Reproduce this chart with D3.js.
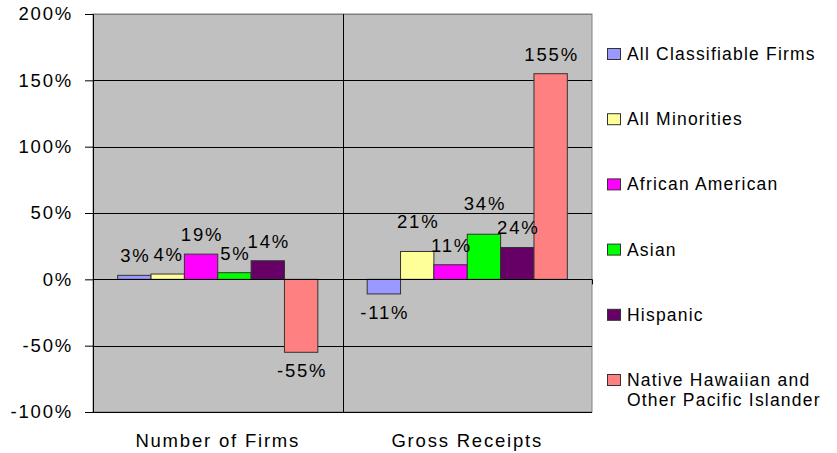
<!DOCTYPE html>
<html>
<head>
<meta charset="utf-8">
<script src="https://d3js.org/d3.v7.min.js"></script>
<style>
  body { margin: 0; background: #fff; }
  text { font-family: "Liberation Sans", Arial, sans-serif; fill: #000; }
</style>
</head>
<body>
<div id="canvas"></div>
<script>
// categories and series
var categories = ['Number of Firms', 'Gross Receipts'];
var series = ['All Classifiable Firms', 'All Minorities', 'African American', 'Asian', 'Hispanic', 'Native Hawaiian and Other Pacific Islander'];
var firmsValues = [3, 4, 19, 5, 14, -55];
var receiptsValues = [-11, 21, 11, 34, 24, 155];
var colors = ['#9999FF', '#FFFF99', '#FF00FF', '#00FF00', '#660066', '#FF8080'];
var yTicks = [-100, -50, 0, 50, 100, 150, 200];

var W = 837, H = 453;
var m = {t:14, r:245, b:41, l:93},
    w = W - m.l - m.r,
    h = H - m.t - m.b;

var svg = d3.select('#canvas')
    .append('svg')
    .attr('width', W)
    .attr('height', H);

var plot = svg.append('g')
    .attr('transform', 'translate(' + m.l + ',' + m.t + ')');

var y = d3.scaleLinear().domain([-100, 200]).range([h, 0]);
var x0 = d3.scaleBand().domain(categories).range([0, w]);
var x1 = d3.scaleBand().domain(d3.range(series.length))
    .range([0, x0.bandwidth()]).paddingOuter(0.74).paddingInner(0);

var data = categories.map(function(c, i){
    var vals = i == 0 ? firmsValues : receiptsValues;
    return {cat: c, vals: vals.map(function(v, j){ return {s: j, v: v}; })};
});

// background
plot.append('rect')
    .attr('width', w).attr('height', h)
    .attr('fill', '#C0C0C0')
    .attr('stroke', '#808080').attr('stroke-width', 1);

// gridlines
plot.selectAll('.grid')
    .data(yTicks)
    .enter()
    .append('line')
    .attr('x1', 0).attr('x2', w)
    .attr('y1', function(d){ return Math.round(y(d)) + 0.5; })
    .attr('y2', function(d){ return Math.round(y(d)) + 0.5; })
    .attr('stroke', function(d){ return d == 200 ? '#808080' : '#000'; })
    .attr('stroke-width', 1);

// category dividers
plot.append('line')
    .attr('x1', Math.round(x0.bandwidth()) + 0.5).attr('x2', Math.round(x0.bandwidth()) + 0.5)
    .attr('y1', 0).attr('y2', h)
    .attr('stroke', '#000');

// bars
var groups = plot.selectAll('.group')
    .data(data)
    .enter()
    .append('g')
    .attr('transform', function(d){ return 'translate(' + x0(d.cat) + ',0)'; });

groups.selectAll('rect')
    .data(function(d){ return d.vals; })
    .enter()
    .append('rect')
    .attr('x', function(d){ return x1(d.s); })
    .attr('width', x1.bandwidth())
    .attr('y', function(d){ return y(Math.max(0, d.v)); })
    .attr('height', function(d){ return Math.abs(y(d.v) - y(0)); })
    .attr('fill', function(d){ return colors[d.s]; })
    .attr('stroke', '#333')
    .attr('stroke-width', 1);

// value labels, nudged up when they collide with the next one (like excel does)
groups.each(function(g){
    var sel = d3.select(this);
    var lbls = sel.selectAll('.lbl')
        .data(g.vals)
        .enter()
        .append('text')
        .attr('class', 'lbl')
        .attr('x', function(d){ return x1(d.s) + x1.bandwidth()/2 + 1; })
        .attr('y', function(d){ return d.v >= 0 ? y(d.v) - 13 : y(d.v) + 25; })
        .attr('text-anchor', 'middle')
        .style('font-size', '18.5px')
        .style('letter-spacing', '1.8px')
        .text(function(d){ return d.v + '%'; });
    var nodes = lbls.nodes();
    for (var i = nodes.length - 2; i >= 0; i--) {
        var a = nodes[i].getBBox(), b = nodes[i+1].getBBox();
        var overlapX = Math.min(a.x + a.width, b.x + b.width) - Math.max(a.x, b.x);
        var overlapY = Math.min(a.y + a.height, b.y + b.height) - Math.max(a.y, b.y);
        if (overlapX > 6 && overlapY > 0 && g.vals[i].v > 0) {
            d3.select(nodes[i]).attr('y', +d3.select(nodes[i+1]).attr('y') - 24);
        }
    }
});

// zero line
plot.append('line')
    .attr('x1', 0).attr('x2', w)
    .attr('y1', Math.round(y(0)) + 0.5).attr('y2', Math.round(y(0)) + 0.5)
    .attr('stroke', '#000');
plot.selectAll('.ctick')
    .data([0, x0.bandwidth(), w])
    .enter()
    .append('line')
    .attr('x1', function(d){ return Math.round(d) + 0.5; })
    .attr('x2', function(d){ return Math.round(d) + 0.5; })
    .attr('y1', y(0)).attr('y2', y(0) + 5)
    .attr('stroke', '#000');

// y axis
var yAxis = d3.axisLeft(y)
    .tickValues(yTicks)
    .tickSize(8)
    .tickPadding(12)
    .tickFormat(function(d){ return d + '%'; });
var ya = plot.append('g').call(yAxis);
ya.select('.domain').attr('stroke', '#000');
ya.selectAll('text')
    .style('font-size', '18.5px')
    .style('letter-spacing', '1.8px')
    .attr('font-family', null);

// x labels
plot.selectAll('.xlab')
    .data(categories)
    .enter()
    .append('text')
    .attr('x', function(d){ return x0(d) + x0.bandwidth()/2; })
    .attr('y', h + 35)
    .attr('text-anchor', 'middle')
    .style('font-size', '18.5px')
    .style('letter-spacing', '1.8px')
    .text(function(d){ return d; });

// legend
var legend = svg.append('g')
    .attr('transform', 'translate(607,0)');
var leg = legend.selectAll('.leg')
    .data(series)
    .enter()
    .append('g')
    .attr('transform', function(d, i){ return 'translate(0,' + (54 + i*65.2) + ')'; });
leg.append('rect')
    .attr('x', 0.5).attr('y', -5.5)
    .attr('width', 13).attr('height', 11)
    .attr('fill', function(d, i){ return colors[i]; })
    .attr('stroke', '#333');
leg.append('text')
    .attr('x', 20)
    .attr('y', 6)
    .style('font-size', '17.5px')
    .style('letter-spacing', '1.2px')
    .each(function(d){
        var t = d3.select(this);
        var parts = d == 'Native Hawaiian and Other Pacific Islander' ? ['Native Hawaiian and', 'Other Pacific Islander'] : [d];
        parts.forEach(function(p, k){
            t.append('tspan').attr('x', 20).attr('dy', k == 0 ? 0 : 20).text(p);
        });
    });
</script>
</body>
</html>
